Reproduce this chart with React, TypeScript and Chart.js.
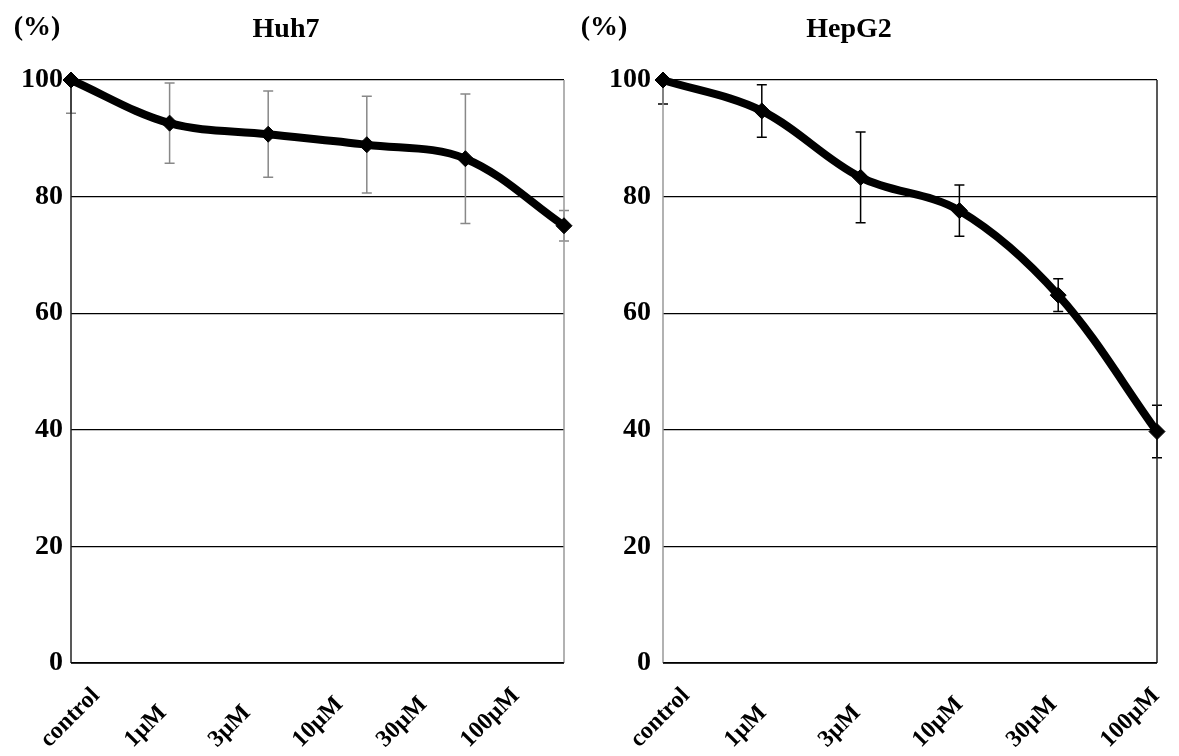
import React, { useEffect, useRef } from 'react';
import { Chart, registerables } from 'chart.js';

Chart.register(...registerables);

const categories = ['control', '1µM', '3µM', '10µM', '30µM', '100µM'];
const huh7Values = [100, 92.6, 90.7, 88.9, 86.5, 75.0];
const huh7Errors = [5.7, 6.9, 7.4, 8.3, 11.1, 2.6];
const hepg2Values = [100, 94.7, 83.3, 77.6, 63.1, 39.7];
const hepg2Errors = [4.1, 4.5, 7.8, 4.4, 2.8, 4.5];
const yTickValues = [0, 20, 40, 60, 80, 100];
const unitLabel = '(%)';

const FONT = '"Liberation Serif", "Times New Roman", serif';

type PanelProps = {
  title: string;
  values: number[];
  errors: number[];
  left: number;
  width: number;
  yAxisWidth: number;
  padRight: number;
  yPad: number;
  titleX: number;
  unitX: number;
  errColor: string;
  leftBorder: string;
  rightBorder: string;
  labelStart: number;
  labelStep: number;
  labelBaseY: number;
};

function Panel(p: PanelProps) {
  const ref = useRef<HTMLCanvasElement>(null);
  useEffect(() => {
    const canvas = ref.current!;
    const errorBars = {
      id: 'errorBars',
      beforeDatasetsDraw(chart: any) {
        const { ctx, chartArea, scales } = chart;
        const xs = scales.x;
        const ys = scales.y;
        ctx.save();
        ctx.strokeStyle = p.errColor;
        ctx.lineWidth = 1.5;
        p.values.forEach((v, i) => {
          const x = xs.getPixelForValue(i);
          const yHi = ys.getPixelForValue(v + p.errors[i]);
          const yLo = ys.getPixelForValue(v - p.errors[i]);
          const top = Math.max(yHi, chartArea.top);
          const bot = Math.min(yLo, chartArea.bottom);
          ctx.beginPath();
          ctx.moveTo(x, top);
          ctx.lineTo(x, bot);
          if (yHi >= chartArea.top) {
            ctx.moveTo(x - 5, yHi);
            ctx.lineTo(x + 5, yHi);
          }
          if (yLo <= chartArea.bottom) {
            ctx.moveTo(x - 5, yLo);
            ctx.lineTo(x + 5, yLo);
          }
          ctx.stroke();
        });
        ctx.restore();
      },
    };
    const frame = {
      id: 'frame',
      beforeDatasetsDraw(chart: any) {
        const { ctx, chartArea } = chart;
        ctx.save();
        ctx.lineWidth = 1.5;
        ctx.strokeStyle = p.leftBorder;
        ctx.beginPath();
        ctx.moveTo(chartArea.left, chartArea.top);
        ctx.lineTo(chartArea.left, chartArea.bottom);
        ctx.stroke();
        ctx.strokeStyle = p.rightBorder;
        ctx.beginPath();
        ctx.moveTo(chartArea.right, chartArea.top);
        ctx.lineTo(chartArea.right, chartArea.bottom);
        ctx.stroke();
        ctx.strokeStyle = '#000';
        ctx.beginPath();
        ctx.moveTo(chartArea.left, chartArea.bottom);
        ctx.lineTo(chartArea.right, chartArea.bottom);
        ctx.stroke();
        ctx.restore();
      },
    };
    const texts = {
      id: 'texts',
      afterDraw(chart: any) {
        const { ctx, chartArea } = chart;
        ctx.save();
        ctx.fillStyle = '#000';
        ctx.font = `bold 28px ${FONT}`;
        ctx.textBaseline = 'alphabetic';
        ctx.textAlign = 'center';
        ctx.fillText(p.title, p.titleX, 37);
        ctx.fillText(unitLabel, p.unitX, 35);
        ctx.font = `bold 24px ${FONT}`;
        ctx.textAlign = 'left';
        categories.forEach((c, i) => {
          const sx = chartArea.left + p.labelStart + i * p.labelStep;
          ctx.save();
          ctx.translate(sx, p.labelBaseY);
          ctx.rotate(-Math.PI / 4);
          ctx.fillText(c, 0, 0);
          ctx.restore();
        });
        ctx.restore();
      },
    };
    const chart = new Chart(canvas, {
      type: 'line',
      data: {
        labels: categories,
        datasets: [
          {
            data: p.values,
            borderColor: '#000',
            backgroundColor: '#000',
            borderWidth: 8,
            tension: 0.35,
            pointStyle: 'rectRot',
            pointRadius: 8,
            pointBackgroundColor: '#000',
            pointBorderColor: '#000',
            pointBorderWidth: 1,
            clip: false,
          } as any,
        ],
      },
      options: {
        animation: false,
        responsive: false,
        maintainAspectRatio: false,
        layout: { padding: { left: 0, right: p.padRight, top: 80, bottom: 0 } },
        plugins: {
          legend: { display: false },
          tooltip: { enabled: false },
          title: { display: false },
        },
        scales: {
          x: {
            type: 'category',
            offset: false,
            grid: { display: false },
            border: { display: false },
            ticks: { display: false },
            afterFit: (s: any) => {
              s.height = 93;
            },
          },
          y: {
            min: 0,
            max: 100,
            afterBuildTicks: (s: any) => {
              s.ticks = yTickValues.map((v) => ({ value: v }));
            },
            grid: { color: '#000', lineWidth: 1.2, drawTicks: false },
            border: { display: false },
            ticks: {
              font: { family: FONT, size: 28, weight: 'bold' },
              color: '#000',
              padding: p.yPad,
            },
            afterFit: (s: any) => {
              s.width = p.yAxisWidth;
            },
          },
        },
      } as any,
      plugins: [errorBars, frame, texts],
    });
    return () => chart.destroy();
  }, []);
  return (
    <canvas
      ref={ref}
      width={p.width}
      height={756}
      style={{ position: 'absolute', left: p.left, top: 0, width: p.width, height: 756 }}
    />
  );
}

export default function App() {
  return (
    <div style={{ position: 'fixed', left: 0, top: 0, width: 1179, height: 756, background: '#fff', overflow: 'hidden' }}>
      <Panel
        title="Huh7"
        values={huh7Values}
        errors={huh7Errors}
        left={0}
        width={575}
        yAxisWidth={71}
        padRight={11}
        yPad={8}
        titleX={286}
        unitX={37}
        errColor="#888"
        leftBorder="#222"
        rightBorder="#999"
        labelStart={-22}
        labelStep={84}
        labelBaseY={748}
      />
      <Panel
        title="HepG2"
        values={hepg2Values}
        errors={hepg2Errors}
        left={575}
        width={604}
        yAxisWidth={88}
        padRight={22}
        yPad={12}
        titleX={274}
        unitX={29}
        errColor="#000"
        leftBorder="#999"
        rightBorder="#222"
        labelStart={-24}
        labelStep={94}
        labelBaseY={748}
      />
    </div>
  );
}
